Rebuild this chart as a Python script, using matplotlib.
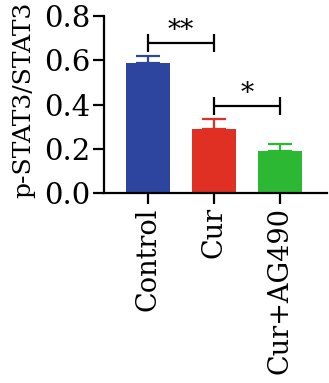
import matplotlib
matplotlib.use("Agg")
import matplotlib.pyplot as plt

categories = ["Control", "Cur", "Cur+AG490"]
values = [0.589, 0.291, 0.191]
errors = [0.032, 0.044, 0.032]
colors = ["#2E45A0", "#E03024", "#2DB834"]
ylabel = "p-STAT3/STAT3"
yticks = [0.0, 0.2, 0.4, 0.6, 0.8]
sig = [(0, 1, 0.677, "**"), (1, 2, 0.394, "*")]

plt.rcParams['font.family'] = ['DejaVu Serif']
fig = plt.figure(figsize=(3.29, 3.83), dpi=100)
ax = fig.add_axes([0.316, 0.4953, 0.678, 0.4629])

x = list(range(len(categories)))
ax.bar(x, values, width=0.675, color=colors, zorder=2)
for xi, v, e, c in zip(x, values, errors, colors):
    ax.errorbar(xi, v, yerr=[[0], [e]], fmt='none', ecolor=c, elinewidth=1.6,
                capsize=8.3, capthick=1.6, zorder=3)

for a, b, y, txt in sig:
    ax.plot([a, b], [y, y], color='black', lw=1.6, solid_capstyle='butt', zorder=4)
    for xx in (a, b):
        ax.plot([xx, xx], [y - 0.041, y + 0.041], color='black', lw=1.6,
                solid_capstyle='butt', zorder=4)
    ax.text((a + b) / 2, y + 0.022, txt, ha='center', va='baseline', fontsize=19)

ax.set_xlim(-0.665, 2.71)
ax.set_ylim(0, 0.8)
ax.set_yticks(yticks)
ax.set_yticklabels([f"{t:.1f}" for t in yticks], fontsize=21)
ax.set_xticks(x)
ax.set_xticklabels(categories, rotation=90, fontsize=19.5)
ax.set_ylabel(ylabel, fontsize=18)
ax.yaxis.set_label_coords(-0.31, 0.53)
for s in ['top', 'right']:
    ax.spines[s].set_visible(False)
for s in ['left', 'bottom']:
    ax.spines[s].set_linewidth(1.6)
ax.tick_params(axis='both', width=1.6, length=8, pad=2)

fig.savefig("out.png", dpi=100)
